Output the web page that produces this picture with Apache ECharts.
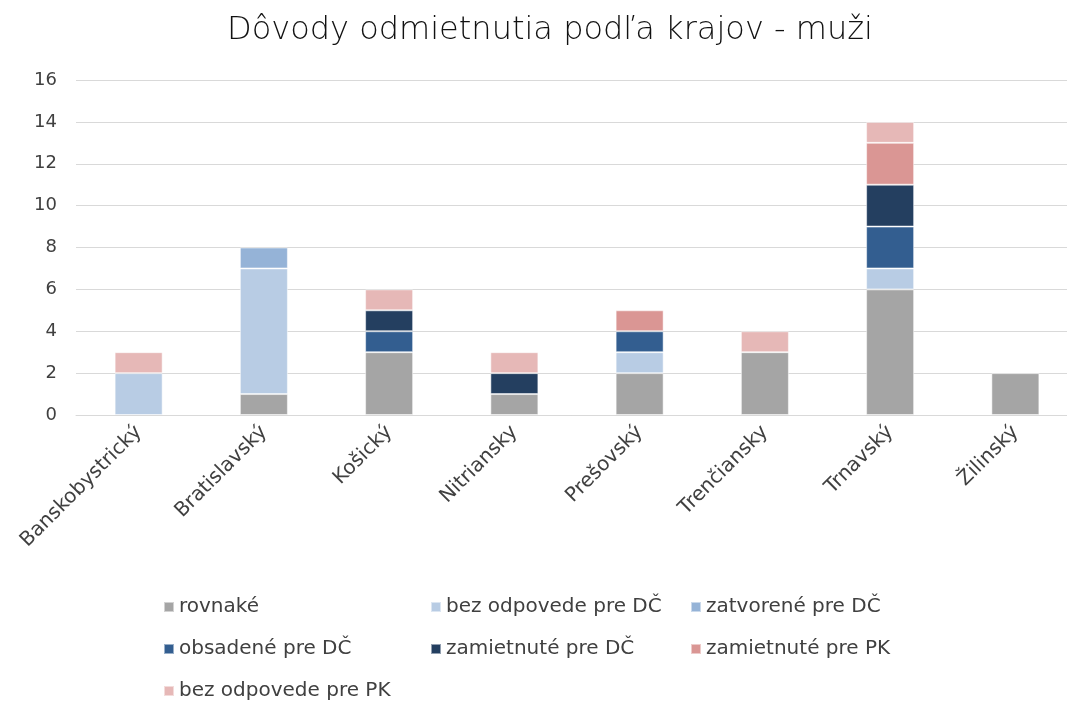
<!DOCTYPE html>
<html>
<head>
<meta charset="utf-8">
<script src="https://cdn.jsdelivr.net/npm/echarts@6/dist/echarts.min.js"></script>
<style>
  html, body { margin: 0; padding: 0; background: #fff; }
  #chart { width: 1067px; height: 704px; }
</style>
</head>
<body>
<div id="chart"></div>
<script>
// kraje
const regions = ['Banskobystrický', 'Bratislavský', 'Košický', 'Nitriansky', 'Prešovský', 'Trenčiansky', 'Trnavský', 'Žilinský'];

// dôvody odmietnutia – počty podľa krajov
const rovnake        = [0, 1, 3, 1, 2, 3, 6, 2];
const bezOdpovedeDC  = [2, 6, 0, 0, 1, 0, 1, 0];
const zatvoreneDC    = [0, 1, 0, 0, 0, 0, 0, 0];
const obsadeneDC     = [0, 0, 1, 0, 1, 0, 2, 0];
const zamietnuteDC   = [0, 0, 1, 1, 0, 0, 2, 0];
const zamietnutePK   = [0, 0, 0, 0, 1, 0, 2, 0];
const bezOdpovedePK  = [1, 0, 1, 1, 0, 1, 1, 0];

const yTicks = [0, 2, 4, 6, 8, 10, 12, 14, 16];

const seriesDefs = [
  { name: 'rovnaké', data: rovnake, color: '#a5a5a5' },
  { name: 'bez odpovede pre DČ', data: bezOdpovedeDC, color: '#b8cce4' },
  { name: 'zatvorené pre DČ', data: zatvoreneDC, color: '#95b3d7' },
  { name: 'obsadené pre DČ', data: obsadeneDC, color: '#335e90' },
  { name: 'zamietnuté pre DČ', data: zamietnuteDC, color: '#243f60' },
  { name: 'zamietnuté pre PK', data: zamietnutePK, color: '#da9694' },
  { name: 'bez odpovede pre PK', data: bezOdpovedePK, color: '#e6b8b7' }
];

// umiestnenie legendy (3 stĺpce, 3 riadky ako v Exceli)
const legendPos = [
  [163, 597], [430, 597], [690, 597],
  [163, 639], [430, 639], [690, 639],
  [163, 681]
];

const font = '"DejaVu Sans", "Noto Sans", sans-serif';
const chart = echarts.init(document.getElementById('chart'));

const option = {
  animation: false,
  title: {
    text: 'Dôvody odmietnutia podľa krajov - muži',
    left: 222,
    top: 10,
    textStyle: { color: '#111', fontSize: 32, fontWeight: 'lighter', fontFamily: font }
  },
  legend: seriesDefs.map((s, i) => ({
    left: legendPos[i][0],
    top: legendPos[i][1],
    data: [s.name],
    itemWidth: 10,
    itemHeight: 10,
    itemGap: 4,
    padding: 0,
    icon: 'rect',
    textStyle: { color: '#404040', fontSize: 20, fontFamily: font }
  })),
  grid: { left: 76, width: 1002, top: 80, height: 335, containLabel: false, outerBoundsMode: 'none' },
  xAxis: {
    type: 'category',
    data: regions,
    axisLine: { lineStyle: { color: '#d9d9d9', width: 1 } },
    axisTick: { show: false },
    axisLabel: {
      rotate: 45,
      interval: 0,
      color: '#404040',
      fontSize: 20,
      fontFamily: font,
      margin: 14
    }
  },
  yAxis: {
    type: 'value',
    min: yTicks[0],
    max: yTicks[yTicks.length - 1],
    interval: 2,
    axisLine: { show: false },
    axisTick: { show: false },
    splitLine: { lineStyle: { color: '#d9d9d9', width: 1 } },
    axisLabel: { color: '#404040', fontSize: 18, fontFamily: font, margin: 19 }
  },
  series: seriesDefs.map(s => ({
    name: s.name,
    type: 'bar',
    stack: 'total',
    barWidth: 48,
    data: s.data.map(v => (v === 0 ? null : v)),
    itemStyle: { color: s.color, borderColor: 'rgba(255,255,255,0.5)', borderWidth: 1 }
  }))
};

chart.setOption(option);
</script>
</body>
</html>
